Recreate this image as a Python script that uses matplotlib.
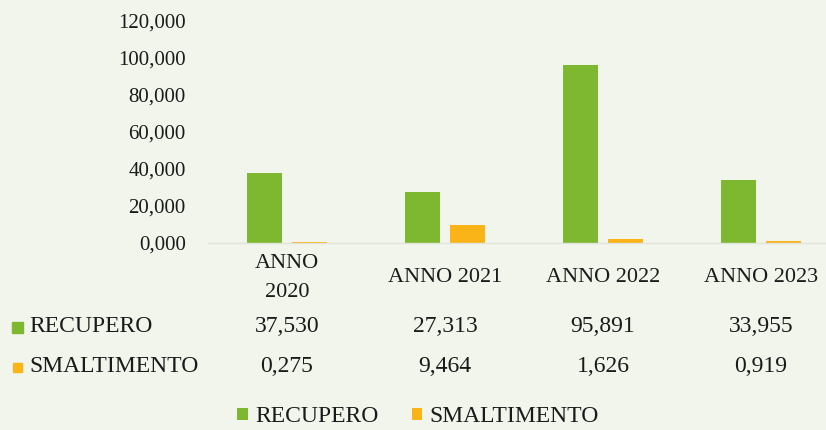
import matplotlib
matplotlib.use("Agg")
from matplotlib import pyplot as plt
from matplotlib.patches import Rectangle
import numpy as np

anni = ["ANNO\n2020", "ANNO 2021", "ANNO 2022", "ANNO 2023"]
recupero = [37.530, 27.313, 95.891, 33.955]
smaltimento = [0.275, 9.464, 1.626, 0.919]
serie = ["RECUPERO", "SMALTIMENTO"]
tick_valori = [0, 20, 40, 60, 80, 100, 120]

VERDE = "#7db830"
ARANCIO = "#fbb417"
SFONDO = "#f1f5ec"
TESTO = "#1a1a1a"


def fmt(v):
    return f"{v:.3f}".replace(".", ",")


def draw_graph():
    plt.rcParams["font.family"] = ["Liberation Serif", "DejaVu Serif"]
    fig = plt.figure(figsize=(8.26, 4.30), dpi=100, facecolor=SFONDO)
    ax = fig.add_axes([208 / 826, 1 - 242.5 / 430, 632 / 826, 222 / 430])
    ax.set_facecolor(SFONDO)

    x = np.arange(len(anni))
    w = 0.222
    off = 0.142
    b1 = ax.bar(x - off, recupero, w, color=VERDE, label=serie[0])
    b2 = ax.bar(x + off, smaltimento, w, color=ARANCIO, label=serie[1])

    ax.set_xlim(-0.5, 3.5)
    ax.set_ylim(0, 120)
    ax.set_yticks(tick_valori)
    ax.set_yticklabels([fmt(v) for v in tick_valori], fontsize=15, color=TESTO)
    ax.tick_params(axis="y", length=0, pad=16)
    ax.set_xticks([])
    for s in ["top", "right", "left"]:
        ax.spines[s].set_visible(False)
    ax.spines["bottom"].set_color("#e0e4db")
    ax.spines["bottom"].set_linewidth(1.0)

    tr_fig = matplotlib.transforms.blended_transform_factory(ax.transData, fig.transFigure)

    # etichette anni
    for i, lab in enumerate(anni):
        if "\n" in lab:
            ax.text(i, 1 - 278 / 430, lab, transform=tr_fig, ha="center", va="center",
                    fontsize=16, linespacing=1.75, color=TESTO)
        else:
            ax.text(i, 1 - 277 / 430, lab, transform=tr_fig, ha="center", va="center",
                    fontsize=16, color=TESTO)

    # tabella dati
    righe = [(serie[0], recupero, VERDE, 327, 11), (serie[1], smaltimento, ARANCIO, 367, 9)]
    for nome, valori, col, ypx, sq in righe:
        yf = 1 - ypx / 430
        fig.patches.append(Rectangle(((17 - sq / 2) / 826, yf - sq / 2 / 430), sq / 826, sq / 430,
                                     transform=fig.transFigure, color=col))
        fig.text(29 / 826, yf, nome, ha="left", va="center", fontsize=17, color=TESTO)
        for i, v in enumerate(valori):
            ax.text(i, yf, fmt(v), transform=tr_fig, ha="center", va="center",
                    fontsize=17, color=TESTO)

    fig.legend(handles=[b1, b2], loc="center", bbox_to_anchor=(418 / 826, 1 - 417 / 430),
               ncol=2, frameon=False, fontsize=17, handlelength=0.45, handleheight=0.45,
               handletextpad=0.3, columnspacing=1.4, borderpad=0, labelcolor=TESTO)

    fig.savefig("out.png", dpi=100, facecolor=SFONDO)


if __name__ == "__main__":
    draw_graph()
